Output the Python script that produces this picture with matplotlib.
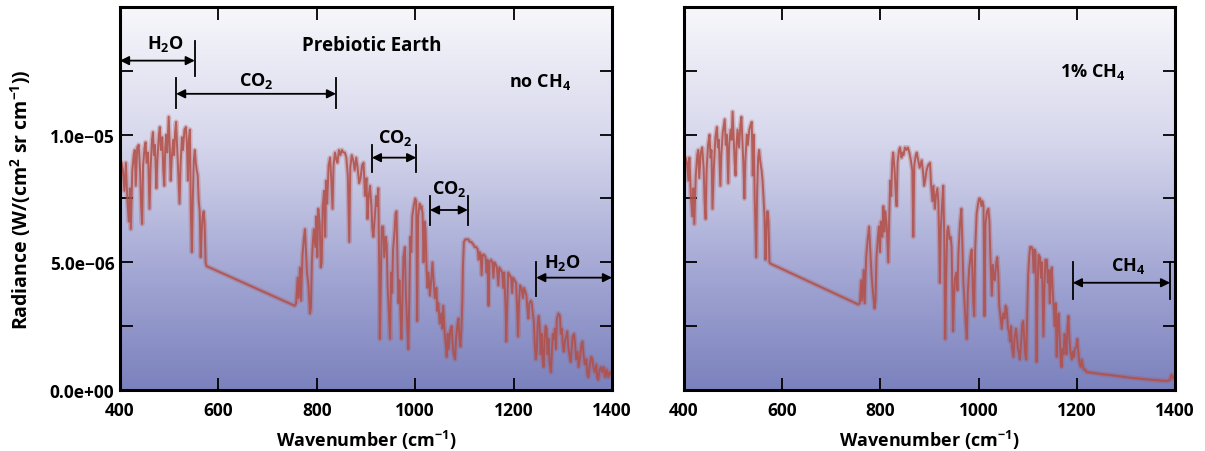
import numpy as np
import matplotlib
matplotlib.use("Agg")
import matplotlib.pyplot as plt
from matplotlib.colors import LinearSegmentedColormap

# ---------------- data (radiance in units of 1e-6 W/(cm2 sr cm-1)) ----------------
left_points = [
    (400, 8.4), (403, 8.9), (406, 8.6), (409, 7.8), (412, 8.9), (415, 7.4), (418, 6.6), (420, 7.9),
    (422, 6.3), (425, 8.6), (428, 9.2), (430, 9.4), (432, 8.0), (435, 9.5), (438, 9.6), (441, 8.5),
    (443, 7.2), (445, 6.5), (447, 8.8), (450, 9.5), (452, 9.7), (454, 8.9), (457, 9.3), (460, 7.1),
    (462, 8.6), (465, 9.8), (467, 10.1), (469, 9.2), (471, 9.6), (474, 7.9), (476, 9.0), (479, 10.0),
    (481, 10.3), (483, 9.4), (486, 9.9), (488, 8.6), (490, 8.0), (492, 9.5), (494, 10.0), (496, 9.3),
    (499, 10.7), (501, 9.6), (503, 8.2), (505, 9.0), (508, 9.8), (510, 9.2), (512, 10.1), (514, 10.5),
    (516, 9.6), (518, 8.6), (521, 7.3), (523, 8.8), (526, 9.9), (528, 9.4), (531, 10.2), (534, 10.3),
    (536, 9.6), (538, 8.2), (540, 9.8), (542, 10.2), (544, 7.0), (546, 5.4), (548, 7.5), (550, 9.0),
    (552, 9.4), (554, 8.9), (556, 8.6), (558, 8.4), (560, 7.4), (562, 7.0), (564, 5.2), (566, 6.2),
    (568, 6.8), (570, 7.0), (572, 6.5), (574, 5.0), (576, 4.85),
    (755, 3.3), (758, 3.4), (761, 4.4), (763, 3.6), (766, 4.8), (768, 3.5), (771, 5.3), (774, 6.0),
    (776, 6.3), (778, 5.4), (780, 4.6), (783, 4.1), (786, 3.0), (788, 3.2), (790, 5.0), (792, 5.8),
    (794, 6.3), (797, 5.6), (799, 6.8), (801, 5.2), (803, 7.1), (806, 6.5), (808, 4.8), (810, 5.0),
    (812, 7.2), (815, 7.8), (817, 6.0), (819, 8.2), (821, 7.3), (824, 8.8), (827, 9.1), (829, 8.4),
    (832, 7.1), (834, 8.8), (837, 9.3), (840, 9.0), (842, 8.9), (845, 9.4), (848, 9.2), (851, 9.4),
    (854, 9.3), (857, 9.3), (860, 9.1), (863, 8.4), (866, 5.8), (868, 8.7), (871, 9.2), (874, 9.0),
    (877, 8.6), (880, 9.1), (883, 8.7), (886, 8.1), (889, 8.3), (892, 8.8), (895, 8.9), (898, 7.6),
    (901, 8.3), (903, 6.7), (905, 7.5), (908, 8.0), (911, 7.2), (913, 6.3), (915, 6.0), (918, 6.8),
    (921, 7.6), (923, 7.2), (925, 7.9), (927, 4.5), (928, 2.0), (930, 4.0), (932, 6.4), (935, 6.4),
    (937, 5.2), (940, 6.0), (942, 5.7), (944, 4.0), (946, 3.2), (949, 2.0), (951, 4.6), (953, 3.8),
    (955, 5.5), (958, 6.2), (960, 6.9), (962, 7.0), (964, 5.0), (966, 3.4), (968, 4.3), (970, 3.0),
    (972, 2.0), (974, 3.5), (976, 5.2), (979, 5.6), (981, 3.8), (984, 2.4), (986, 1.6), (988, 3.5),
    (990, 6.0), (992, 5.4), (994, 6.8), (997, 7.2), (1000, 7.5), (1002, 7.4), (1004, 2.7), (1006, 6.8),
    (1009, 7.3), (1011, 7.1), (1013, 7.2), (1015, 6.9), (1017, 5.0), (1019, 6.6), (1021, 6.3), (1023, 4.8),
    (1025, 4.0), (1027, 4.6), (1030, 3.7), (1033, 4.4), (1035, 5.0), (1037, 4.4), (1040, 3.6), (1043, 4.0),
    (1045, 3.1), (1047, 3.4), (1050, 2.6), (1053, 3.0), (1055, 2.4), (1057, 3.3), (1060, 2.2), (1062, 1.8),
    (1064, 1.3), (1066, 2.2), (1068, 1.6), (1071, 2.3), (1074, 2.5), (1076, 1.8), (1078, 1.4), (1081, 1.2),
    (1083, 2.0), (1086, 2.6), (1088, 2.8), (1090, 2.0), (1092, 1.7), (1094, 2.4), (1096, 3.6), (1097, 4.8),
    (1099, 5.8), (1102, 5.9), (1105, 5.9), (1108, 5.9), (1111, 5.8), (1114, 5.8), (1118, 5.7), (1121, 5.6),
    (1124, 5.6), (1127, 5.5), (1129, 5.1), (1131, 5.4), (1133, 5.3), (1135, 4.5), (1137, 5.3), (1140, 5.3),
    (1143, 5.2), (1145, 4.6), (1147, 5.1), (1149, 3.3), (1151, 5.0), (1154, 5.1), (1157, 5.0), (1159, 4.4),
    (1161, 5.0), (1164, 4.9), (1166, 4.8), (1169, 4.1), (1171, 4.8), (1174, 4.7), (1177, 4.6), (1179, 4.0),
    (1181, 4.6), (1184, 3.0), (1185, 1.9), (1187, 3.2), (1189, 4.6), (1192, 4.5), (1195, 4.4), (1197, 3.8),
    (1199, 4.4), (1202, 4.3), (1205, 4.2), (1207, 3.3), (1209, 2.1), (1211, 3.4), (1213, 4.1), (1216, 4.0),
    (1219, 3.6), (1221, 4.0), (1223, 3.9), (1226, 3.7), (1228, 3.2), (1230, 2.8), (1232, 3.4), (1235, 3.5),
    (1237, 3.4), (1239, 3.0), (1241, 2.7), (1243, 1.8), (1245, 1.2), (1247, 1.5), (1249, 2.6), (1251, 2.9),
    (1253, 2.5), (1255, 1.4), (1257, 2.2), (1259, 1.2), (1261, 0.9), (1263, 2.0), (1265, 2.5), (1267, 2.4),
    (1269, 1.4), (1271, 2.0), (1273, 1.1), (1276, 0.7), (1278, 1.6), (1280, 2.2), (1282, 2.0), (1284, 2.4),
    (1286, 1.6), (1288, 2.8), (1291, 3.0), (1294, 2.9), (1296, 2.2), (1298, 2.4), (1300, 1.8), (1302, 1.5),
    (1305, 2.0), (1307, 2.1), (1309, 2.3), (1311, 1.7), (1314, 1.3), (1316, 1.1), (1318, 1.6), (1320, 2.1),
    (1323, 2.2), (1325, 1.8), (1327, 1.2), (1330, 1.5), (1332, 0.9), (1335, 1.3), (1338, 1.8), (1340, 1.9),
    (1342, 1.4), (1345, 1.0), (1348, 1.2), (1350, 0.6), (1352, 0.5), (1355, 1.0), (1358, 1.3), (1360, 1.2),
    (1362, 0.9), (1365, 0.7), (1368, 1.0), (1370, 0.5), (1372, 0.4), (1375, 0.8), (1378, 0.9), (1380, 0.7),
    (1383, 0.9), (1386, 0.5), (1389, 0.8), (1392, 0.5), (1395, 0.7), (1398, 0.6), (1400, 0.7),
]

right_points = [
    (400, 8.8), (403, 9.1), (406, 8.9), (409, 8.2), (411, 9.1), (414, 7.6), (417, 6.8), (419, 7.9),
    (421, 6.5), (424, 8.4), (427, 9.2), (429, 9.4), (431, 8.3), (434, 9.3), (437, 9.5), (440, 8.7),
    (442, 7.4), (444, 6.7), (446, 8.6), (449, 9.6), (452, 10.0), (454, 9.1), (456, 9.4), (458, 7.1),
    (461, 8.8), (464, 9.9), (467, 10.3), (469, 9.5), (471, 9.8), (474, 8.0), (476, 9.2), (479, 10.1),
    (483, 10.6), (485, 9.6), (487, 10.0), (490, 8.1), (492, 9.6), (495, 10.2), (497, 9.8), (499, 10.9),
    (501, 10.0), (503, 9.0), (505, 8.4), (507, 9.6), (509, 10.2), (512, 9.5), (515, 10.4), (517, 10.7),
    (519, 9.8), (521, 8.8), (523, 7.5), (525, 9.0), (528, 10.0), (530, 9.6), (533, 10.2), (536, 10.4),
    (538, 10.5), (540, 8.4), (542, 10.0), (544, 7.5), (547, 5.2), (549, 7.8), (551, 9.1), (553, 9.4),
    (555, 9.0), (558, 8.6), (560, 8.2), (562, 7.5), (564, 6.8), (566, 5.1), (568, 6.4), (570, 7.0),
    (572, 6.6), (574, 5.0), (576, 4.95),
    (755, 3.35), (758, 3.4), (761, 4.3), (763, 3.5), (766, 4.7), (768, 3.4), (771, 5.2), (774, 5.9),
    (777, 6.4), (779, 5.6), (782, 4.5), (785, 3.8), (788, 3.2), (790, 3.5), (792, 5.2), (795, 6.0),
    (797, 6.4), (799, 5.4), (801, 6.6), (804, 6.0), (806, 7.2), (808, 6.2), (810, 7.0), (813, 6.4),
    (816, 5.0), (818, 6.8), (820, 8.2), (822, 7.6), (824, 8.9), (826, 9.3), (829, 8.6), (831, 7.8),
    (833, 7.2), (835, 8.9), (838, 9.4), (840, 9.5), (843, 9.1), (845, 9.3), (847, 9.2), (850, 9.5),
    (853, 9.4), (856, 9.5), (859, 9.3), (862, 9.0), (865, 8.6), (867, 6.0), (869, 8.8), (872, 9.2),
    (874, 9.3), (877, 9.0), (880, 8.7), (884, 9.0), (887, 8.5), (889, 8.0), (891, 8.2), (894, 8.6),
    (897, 8.8), (901, 8.9), (903, 8.1), (906, 7.4), (908, 8.0), (911, 7.1), (913, 7.6), (916, 7.9),
    (918, 7.4), (920, 5.5), (921, 4.2), (923, 6.3), (926, 7.4), (928, 8.0), (930, 6.0), (932, 2.0),
    (934, 4.5), (936, 6.2), (938, 6.4), (941, 5.9), (943, 6.0), (945, 5.6), (947, 3.5), (948, 2.3),
    (950, 3.7), (952, 4.4), (955, 4.6), (957, 3.9), (959, 5.4), (962, 6.5), (965, 7.1), (967, 5.6),
    (969, 4.2), (971, 3.5), (974, 2.5), (976, 2.0), (978, 3.8), (981, 4.8), (984, 5.3), (986, 5.5),
    (989, 3.5), (991, 2.9), (993, 5.5), (996, 6.9), (999, 7.3), (1001, 7.5), (1003, 7.5), (1006, 7.2),
    (1008, 7.4), (1010, 7.2), (1012, 2.9), (1014, 6.5), (1017, 7.0), (1020, 7.1), (1022, 6.6), (1024, 5.2),
    (1027, 3.7), (1029, 4.9), (1031, 4.4), (1033, 4.3), (1036, 5.0), (1038, 5.2), (1040, 4.6), (1042, 3.3),
    (1045, 2.8), (1047, 2.4), (1050, 3.0), (1053, 2.8), (1055, 3.3), (1057, 3.2), (1060, 2.4), (1062, 2.3),
    (1064, 1.9), (1066, 2.5), (1068, 1.7), (1071, 1.3), (1073, 2.0), (1076, 2.4), (1078, 2.1), (1080, 1.6),
    (1082, 1.5), (1084, 1.2), (1087, 2.0), (1089, 2.6), (1091, 2.7), (1093, 2.0), (1095, 1.4), (1097, 1.2),
    (1099, 3.0), (1101, 4.5), (1103, 5.2), (1105, 5.6), (1108, 5.6), (1110, 5.5), (1112, 4.6), (1114, 5.5),
    (1116, 5.4), (1118, 1.1), (1120, 3.8), (1122, 5.3), (1125, 5.2), (1127, 4.4), (1129, 5.0), (1132, 2.1),
    (1134, 4.0), (1136, 5.1), (1139, 5.1), (1141, 4.2), (1143, 4.7), (1145, 3.4), (1147, 4.6), (1149, 4.8),
    (1151, 3.8), (1153, 3.2), (1155, 2.5), (1157, 3.4), (1159, 1.3), (1161, 2.6), (1163, 3.0), (1165, 2.1),
    (1167, 1.3), (1169, 0.9), (1171, 1.6), (1173, 1.4), (1175, 2.2), (1177, 2.0), (1179, 1.4), (1181, 2.5),
    (1183, 2.9), (1185, 2.0), (1187, 1.5), (1190, 1.2), (1192, 1.5), (1194, 1.3), (1196, 1.6), (1199, 1.7),
    (1201, 2.0), (1203, 1.5), (1205, 1.1), (1208, 0.9), (1210, 1.2), (1212, 1.0), (1214, 0.8), (1217, 0.8),
    (1220, 0.7), (1230, 0.68), (1250, 0.62), (1270, 0.58), (1290, 0.53), (1310, 0.48), (1330, 0.44),
    (1350, 0.40), (1370, 0.37), (1385, 0.35), (1390, 0.4), (1393, 0.6), (1396, 0.45), (1398, 0.55), (1400, 0.5),
]

x_ticks = [400, 600, 800, 1000, 1200, 1400]
y_ticks = [0.0, 2.5e-6, 5.0e-6, 7.5e-6, 1.0e-5, 1.25e-5]
y_tick_labels = ["0.0e+00", "", "5.0e\u221206", "", "1.0e\u221205", ""]
SCALE = 1e-6

# band annotations: (label, text x, text y, arrow x0, arrow x1, arrow y, bars at x0/x1, bar y-range)
left_bands = [
    ("H$_2$O", 492, 13.6, 400, 552, 12.9, (False, True), (12.3, 13.65)),
    ("CO$_2$", 677, 12.15, 514, 839, 11.6, (True, True), (11.05, 12.2)),
    ("CO$_2$", 960, 9.9, 912, 1002, 9.1, (True, True), (8.55, 9.6)),
    ("CO$_2$", 1070, 7.9, 1030, 1107, 7.05, (True, True), (6.45, 7.6)),
    ("H$_2$O", 1300, 5.0, 1246, 1400, 4.4, (True, False), (3.7, 5.0)),
]
right_bands = [
    ("CH$_4$", 1305, 4.9, 1192, 1390, 4.2, (True, True), (3.55, 5.0)),
]

# ---------------- style ----------------
FONT = "Open Sans"
plt.rcParams["font.family"] = [FONT, "DejaVu Sans"]
plt.rcParams["font.weight"] = "bold"
plt.rcParams["mathtext.fontset"] = "custom"
plt.rcParams["mathtext.rm"] = FONT + ":bold"
plt.rcParams["mathtext.bf"] = FONT + ":bold"
plt.rcParams["mathtext.it"] = FONT + ":bold"
plt.rcParams["mathtext.default"] = "rm"

bg_cmap = LinearSegmentedColormap.from_list(
    "bg", [(0.0, "#7b81bd"), (0.3, "#a2a6d3"), (0.65, "#d6d7ec"), (1.0, "#f7f7fb")])
line_color = "#b24f48"

TICK_FS = 12.5
LABEL_FS = 13
ANN_FS = 13

fig = plt.figure(figsize=(12.05, 4.52), dpi=100)
ax_left = fig.add_axes([120 / 1205, 1 - 391 / 452, 492 / 1205, 383 / 452])
ax_right = fig.add_axes([684 / 1205, 1 - 391 / 452, 491 / 1205, 383 / 452])


def style_axes(ax, show_ylabels):
    grad = np.linspace(0, 1, 256).reshape(-1, 1)
    ax.imshow(grad, extent=[400, 1400, 0, 1.5e-5], origin="lower", aspect="auto",
              cmap=bg_cmap, zorder=0, interpolation="bicubic")
    ax.set_xlim(400, 1400)
    ax.set_ylim(0, 1.5e-5)
    ax.set_xticks(x_ticks)
    ax.set_xticklabels([str(t) for t in x_ticks], fontsize=TICK_FS, fontweight="bold")
    ax.set_yticks(y_ticks)
    if show_ylabels:
        ax.set_yticklabels(y_tick_labels, fontsize=TICK_FS, fontweight="bold")
    else:
        ax.set_yticklabels([])
    ax.tick_params(direction="in", length=9, width=1.3, top=True, right=True, pad=4)
    ax.tick_params(axis="x", pad=8)
    for s in ax.spines.values():
        s.set_linewidth(2.2)
        s.set_zorder(5)
    ax.set_xlabel("Wavenumber (cm$^{-1}$)", fontsize=LABEL_FS, fontweight="bold", labelpad=6)


def draw_spectrum(ax, pts):
    wn = [p[0] for p in pts]
    rad = [p[1] * SCALE for p in pts]
    ax.plot(wn, rad, color=line_color, lw=3.6, alpha=0.28, zorder=2, solid_joinstyle="round")
    ax.plot(wn, rad, color=line_color, lw=1.4, alpha=0.85, zorder=3, solid_joinstyle="round")


def draw_bands(ax, bands):
    for label, tx, ty, x0, x1, ay, bars, yr in bands:
        ax.text(tx, ty * SCALE, label, ha="center", va="center", fontsize=ANN_FS, fontweight="bold", zorder=6)
        ax.annotate("", xy=(x1, ay * SCALE), xytext=(x0, ay * SCALE),
                    arrowprops=dict(arrowstyle="<|-|>", color="black", lw=1.3,
                                    mutation_scale=13, shrinkA=0, shrinkB=0), zorder=6)
        for flag, bx in zip(bars, (x0, x1)):
            if flag:
                ax.plot([bx, bx], [yr[0] * SCALE, yr[1] * SCALE], color="black", lw=1.3, zorder=6)


style_axes(ax_left, True)
style_axes(ax_right, False)
draw_spectrum(ax_left, left_points)
draw_spectrum(ax_right, right_points)
draw_bands(ax_left, left_bands)
draw_bands(ax_right, right_bands)

ax_left.text(912, 13.5 * SCALE, "Prebiotic Earth", ha="center", va="center", fontsize=ANN_FS + 0.5, fontweight="bold")
ax_left.text(1254, 12.1 * SCALE, "no CH$_4$", ha="center", va="center", fontsize=ANN_FS, fontweight="bold")
ax_right.text(1233, 12.5 * SCALE, "1% CH$_4$", ha="center", va="center", fontsize=ANN_FS, fontweight="bold")

ax_left.set_ylabel("Radiance (W/(cm$^2$ sr cm$^{-1}$))", fontsize=LABEL_FS + 1, fontweight="bold", labelpad=12)

fig.savefig("out.png", dpi=100)
